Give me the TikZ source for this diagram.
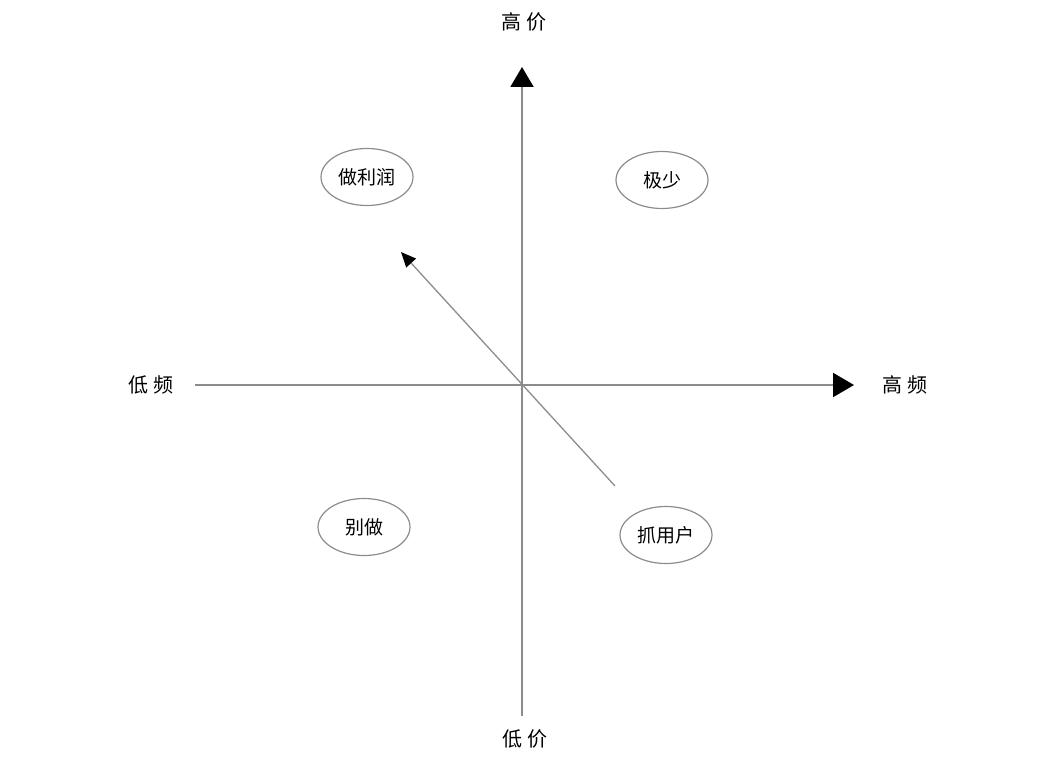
\documentclass[tikz,border=0pt]{standalone}
\usepackage{fontspec}
\setmainfont{Noto Sans CJK SC}
\usepackage{tikz}
\usetikzlibrary{shapes.geometric,arrows.meta}

\begin{document}
\begin{tikzpicture}[x=1pt, y=-1pt, thick]
        \useasboundingbox (0,0) rectangle (1038,759);
        \tikzset{
          axisline/.style={draw=black!45, line width=2pt},
          quadrant/.style={draw=black!45, line width=1.2pt, ellipse, minimum width=92pt, minimum height=57pt, inner sep=0pt, font=\fontsize{19}{22}\selectfont},
          axislabel/.style={font=\fontsize{20}{24}\selectfont}
        }

        % Axis end points
        \coordinate (origin) at (522, 385);
        \coordinate (price_low) at (522, 716);
        \coordinate (price_high) at (522, 67);
        \coordinate (freq_low) at (195, 385);
        \coordinate (freq_high) at (854, 385);

        % Draw axes
        \draw[axisline, -{Triangle[black, length=20pt, width=23pt]}] (price_low) -- (price_high);
        \draw[axisline, -{Triangle[black, length=21pt, width=24pt]}] (freq_low) -- (freq_high);

        % Axis labels
        \node[axislabel] (label_high_price) at (524, 22) {高 价};
        \node[axislabel] (label_low_price) at (525, 739) {低 价};
        \node[axislabel] (label_low_freq) at (151, 385) {低 频};
        \node[axislabel] (label_high_freq) at (905, 385) {高 频};

        % Quadrants as ovals
        \node[quadrant] (profit) at (367, 177) {做利润};
        \node[quadrant] (rare) at (662, 180) {极少};
        \node[quadrant] (skip) at (364, 527) {别做};
        \node[quadrant] (users) at (666, 535) {抓用户};

        % Move from users towards profit
        \coordinate (move_start) at (615, 486);
        \coordinate (move_end) at (401, 252);
        \draw[draw=black!45, line width=1.3pt, -{Triangle[black, length=15pt, width=13pt]}] (move_start) -- (move_end);
\end{tikzpicture}
\end{document}
